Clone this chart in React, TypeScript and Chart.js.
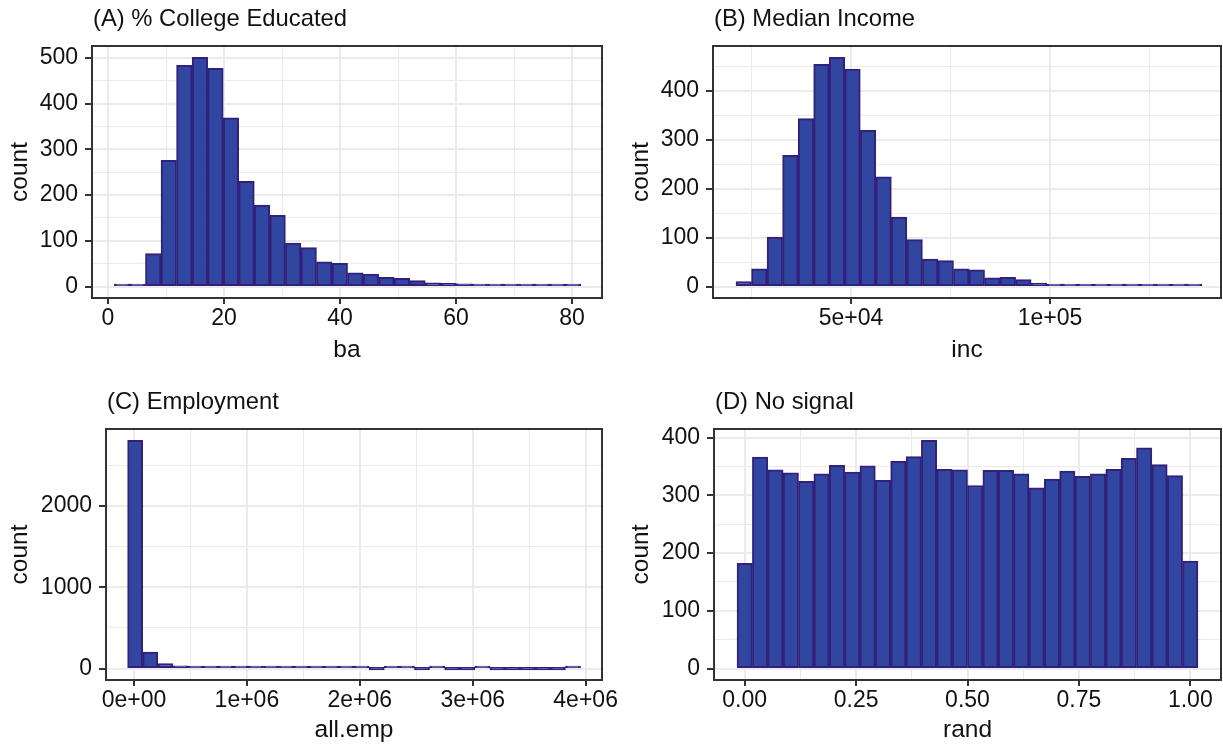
import React, { useEffect, useRef } from "react";
import { Chart, registerables } from "chart.js";

Chart.register(...registerables);

// ---- data: histogram counts per bin (30 bins each) ----
const baCounts = [2, 5, 72, 276, 484, 501, 477, 369, 230, 178, 156, 95, 85, 54, 51, 30, 27, 20, 18, 13, 8, 7, 6, 2, 1, 1, 1, 2, 1, 2];
const baBinStart = 1.1;
const baBinWidth = 2.68;

const incCounts = [10, 36, 101, 268, 343, 454, 468, 444, 319, 224, 142, 96, 56, 53, 36, 34, 18, 19, 14, 7, 4, 5, 5, 5, 4, 4, 2, 2, 1, 3];
const incBinStart = 21106;
const incBinWidth = 3903;

const empCounts = [2808, 204, 61, 34, 22, 16, 9, 6, 4, 3, 2, 2, 1, 1, 1, 1, 0, 1, 1, 0, 1, 0, 0, 1, 0, 0, 0, 0, 0, 1];
const empBinStart = -56700;
const empBinWidth = 133717;

const randCounts = [182, 366, 344, 339, 324, 337, 352, 340, 351, 326, 359, 367, 395, 345, 344, 317, 343, 343, 337, 313, 328, 342, 333, 337, 345, 364, 382, 353, 334, 186];
const randBinStart = -0.0172;
const randBinWidth = 0.03448;

// ---- tick values and labels ----
const baXTicks = [0, 20, 40, 60, 80];
const baXTickLabels = ["0", "20", "40", "60", "80"];
const baXMinor = [10, 30, 50, 70];
const baYTicks = [0, 100, 200, 300, 400, 500];
const baYTickLabels = ["0", "100", "200", "300", "400", "500"];
const baYMinor = [50, 150, 250, 350, 450];

const incXTicks = [50000, 100000];
const incXTickLabels = ["5e+04", "1e+05"];
const incXMinor = [25000, 75000, 125000];
const incYTicks = [0, 100, 200, 300, 400];
const incYTickLabels = ["0", "100", "200", "300", "400"];
const incYMinor = [50, 150, 250, 350, 450];

const empXTicks = [0, 1000000, 2000000, 3000000, 4000000];
const empXTickLabels = ["0e+00", "1e+06", "2e+06", "3e+06", "4e+06"];
const empXMinor = [500000, 1500000, 2500000, 3500000];
const empYTicks = [0, 1000, 2000];
const empYTickLabels = ["0", "1000", "2000"];
const empYMinor = [500, 1500, 2500];

const randXTicks = [0, 0.25, 0.5, 0.75, 1];
const randXTickLabels = ["0.00", "0.25", "0.50", "0.75", "1.00"];
const randXMinor = [0.125, 0.375, 0.625, 0.875];
const randYTicks = [0, 100, 200, 300, 400];
const randYTickLabels = ["0", "100", "200", "300", "400"];
const randYMinor = [50, 150, 250, 350];

// ---- styling ----
const FONT = "'Liberation Sans', Arial, Helvetica, sans-serif";
const BAR_FILL = "#3046A0";
const BAR_EDGE = "#33207A";
const GRID = "#EBEBEB";
const FRAME = "#333333";
const TEXT = "#111111";
const TICK_SIZE = 23;
const AXIS_TITLE_SIZE = 24.5;
const PANEL_TITLE_SIZE = 23.8;

type Box = { left: number; top: number; width: number; height: number };
type Area = { left: number; right: number; top: number; bottom: number };

type PanelSpec = {
  title: string;
  xTitle: string;
  counts: number[];
  binStart: number;
  binWidth: number;
  xRange: [number, number];
  yRange: [number, number];
  xTicks: number[];
  xTickLabels: string[];
  xMinor: number[];
  yTicks: number[];
  yTickLabels: string[];
  yMinor: number[];
  box: Box;
  area: Area;
  titleY: number;
  xTitleY: number;
  yTitleX: number;
};

const panels: PanelSpec[] = [
  {
    title: "(A) % College Educated",
    xTitle: "ba",
    counts: baCounts,
    binStart: baBinStart,
    binWidth: baBinWidth,
    xRange: [-2.76, 85.17],
    yRange: [-25.05, 526.05],
    xTicks: baXTicks,
    xTickLabels: baXTickLabels,
    xMinor: baXMinor,
    yTicks: baYTicks,
    yTickLabels: baYTickLabels,
    yMinor: baYMinor,
    box: { left: 0, top: 0, width: 640, height: 372 },
    area: { left: 92, right: 602, top: 46, bottom: 298 },
    titleY: 19.5,
    xTitleY: 350,
    yTitleX: 20,
  },
  {
    title: "(B) Median Income",
    xTitle: "inc",
    counts: incCounts,
    binStart: incBinStart,
    binWidth: incBinWidth,
    xRange: [15327, 142965],
    yRange: [-23.4, 491.4],
    xTicks: incXTicks,
    xTickLabels: incXTickLabels,
    xMinor: incXMinor,
    yTicks: incYTicks,
    yTickLabels: incYTickLabels,
    yMinor: incYMinor,
    box: { left: 611, top: 0, width: 612, height: 372 },
    area: { left: 102, right: 610, top: 46, bottom: 298 },
    titleY: 19.5,
    xTitleY: 350,
    yTitleX: 30,
  },
  {
    title: "(C) Employment",
    xTitle: "all.emp",
    counts: empCounts,
    binStart: empBinStart,
    binWidth: empBinWidth,
    xRange: [-248000, 4145000],
    yRange: [-140.4, 2948.4],
    xTicks: empXTicks,
    xTickLabels: empXTickLabels,
    xMinor: empXMinor,
    yTicks: empYTicks,
    yTickLabels: empYTickLabels,
    yMinor: empYMinor,
    box: { left: 0, top: 372, width: 640, height: 373 },
    area: { left: 106, right: 602, top: 57, bottom: 308 },
    titleY: 30,
    xTitleY: 360,
    yTitleX: 20,
  },
  {
    title: "(D) No signal",
    xTitle: "rand",
    counts: randCounts,
    binStart: randBinStart,
    binWidth: randBinWidth,
    xRange: [-0.0689, 1.0689],
    yRange: [-19.75, 414.75],
    xTicks: randXTicks,
    xTickLabels: randXTickLabels,
    xMinor: randXMinor,
    yTicks: randYTicks,
    yTickLabels: randYTickLabels,
    yMinor: randYMinor,
    box: { left: 611, top: 372, width: 612, height: 373 },
    area: { left: 103, right: 610, top: 57, bottom: 308 },
    titleY: 30,
    xTitleY: 360,
    yTitleX: 30,
  },
];

// Frame around the plotting area plus the panel heading, left-aligned to the panel.
const panelFrame = {
  id: "panelFrame",
  afterDraw(chart: any, _args: any, opts: any) {
    const { ctx, chartArea: a } = chart;
    ctx.save();
    ctx.strokeStyle = FRAME;
    ctx.lineWidth = 2;
    ctx.strokeRect(a.left, a.top, a.right - a.left, a.bottom - a.top);
    ctx.fillStyle = TEXT;
    ctx.font = `${PANEL_TITLE_SIZE}px ${FONT}`;
    ctx.textAlign = "left";
    ctx.textBaseline = "middle";
    ctx.fillText(opts.text, a.left + 1, opts.y);
    ctx.restore();
  },
};

function near(v: number, list: number[], span: number) {
  return list.some((m) => Math.abs(m - v) < span * 1e-6);
}

function axisOptions(
  range: [number, number],
  majors: number[],
  labels: string[],
  minors: number[],
  tickLen: number,
  fit: (s: any) => void,
  title: any,
  tickPadding: number
) {
  const span = range[1] - range[0];
  const all = [...majors, ...minors]
    .filter((v) => v >= range[0] && v <= range[1])
    .sort((p, q) => p - q);
  return {
    type: "linear" as const,
    min: range[0],
    max: range[1],
    offset: false,
    afterBuildTicks: (s: any) => {
      s.ticks = all.map((v) => ({ value: v }));
    },
    afterFit: fit,
    border: { display: false },
    grid: {
      offset: false,
      drawOnChartArea: true,
      drawTicks: true,
      tickLength: tickLen,
      tickWidth: 2,
      color: GRID,
      lineWidth: (c: any) => (c.tick && near(c.tick.value, majors, span) ? 2 : 1),
      tickColor: (c: any) => (c.tick && near(c.tick.value, majors, span) ? FRAME : "rgba(0,0,0,0)"),
    },
    ticks: {
      autoSkip: false,
      maxRotation: 0,
      minRotation: 0,
      padding: tickPadding,
      color: TEXT,
      font: { family: FONT, size: TICK_SIZE },
      callback: (value: number) => {
        const i = majors.findIndex((m) => Math.abs(m - value) < span * 1e-6);
        return i >= 0 ? labels[i] : "";
      },
    },
    title,
  };
}

function HistogramPanel({ spec }: { spec: PanelSpec }) {
  const ref = useRef<HTMLCanvasElement | null>(null);

  useEffect(() => {
    const canvas = ref.current;
    if (!canvas) return;
    const { box, area } = spec;
    const yAxisWidth = area.left;
    const xAxisHeight = box.height - area.bottom;
    const lineH = AXIS_TITLE_SIZE * 1.2;

    const points = spec.counts.map((c, i) => ({
      x: spec.binStart + spec.binWidth * (i + 0.5),
      y: c,
    }));

    const chart = new Chart(canvas, {
      type: "bar",
      data: {
        datasets: [
          {
            data: points as any,
            backgroundColor: BAR_FILL,
            borderColor: BAR_EDGE,
            borderWidth: 2,
            borderSkipped: false,
            barPercentage: 1,
            categoryPercentage: 1,
            minBarLength: 2.5,
          },
        ],
      },
      options: {
        responsive: false,
        animation: false,
        devicePixelRatio: 1,
        layout: {
          padding: { left: 0, top: area.top, right: box.width - area.right, bottom: 0 },
        },
        plugins: {
          legend: { display: false },
          tooltip: { enabled: false },
          panelFrame: { text: spec.title, y: spec.titleY },
        } as any,
        scales: {
          x: axisOptions(
            spec.xRange,
            spec.xTicks,
            spec.xTickLabels,
            spec.xMinor,
            6,
            (s: any) => {
              s.height = xAxisHeight;
            },
            {
              display: true,
              text: spec.xTitle,
              color: TEXT,
              font: { family: FONT, size: AXIS_TITLE_SIZE },
              padding: { top: 0, bottom: Math.max(0, box.height - lineH / 2 - spec.xTitleY) },
            },
            1
          ) as any,
          y: axisOptions(
            spec.yRange,
            spec.yTicks,
            spec.yTickLabels,
            spec.yMinor,
            7,
            (s: any) => {
              s.width = yAxisWidth;
            },
            {
              display: true,
              text: "count",
              color: TEXT,
              font: { family: FONT, size: AXIS_TITLE_SIZE },
              padding: { top: Math.max(0, spec.yTitleX - lineH / 2), bottom: 0 },
            },
            7
          ) as any,
        },
      },
      plugins: [panelFrame as any],
    });

    return () => chart.destroy();
  }, [spec]);

  return (
    <canvas
      ref={ref}
      width={spec.box.width}
      height={spec.box.height}
      style={{
        position: "absolute",
        left: spec.box.left,
        top: spec.box.top,
        width: spec.box.width,
        height: spec.box.height,
      }}
    />
  );
}

export default function App() {
  return (
    <div
      style={{
        position: "absolute",
        left: 0,
        top: 0,
        width: 1223,
        height: 745,
        background: "#FFFFFF",
        overflow: "hidden",
      }}
    >
      {panels.map((p) => (
        <HistogramPanel key={p.title} spec={p} />
      ))}
    </div>
  );
}
